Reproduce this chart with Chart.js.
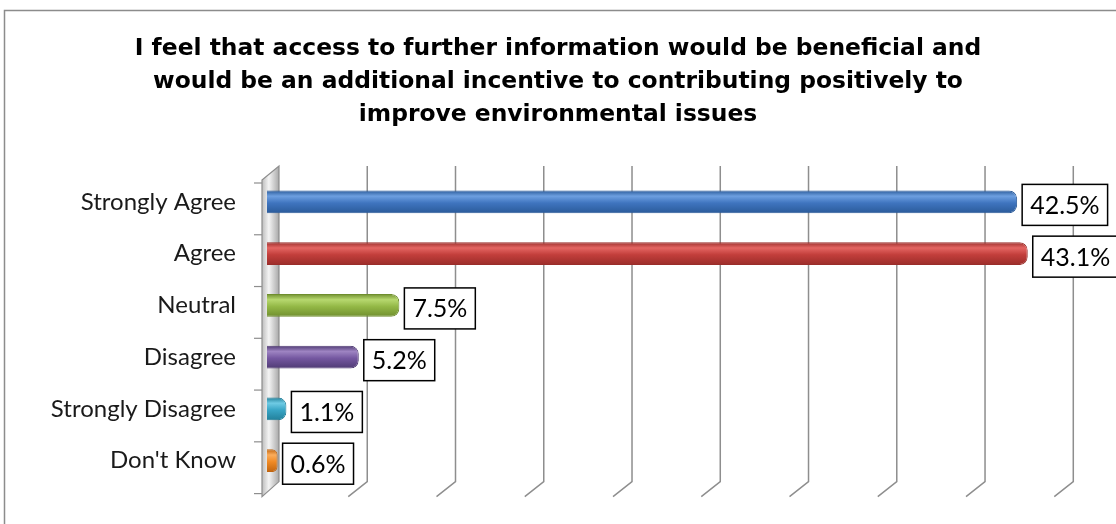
<!DOCTYPE html>
<html>
  <head>
    <title>Further information as incentive</title>
    <script src="https://cdn.jsdelivr.net/npm/chart.js@4/dist/chart.umd.min.js"></script>
    <style>
      html, body { margin: 0; padding: 0; background: #fff; }
      #container { width: 1116px; height: 524px; }
    </style>
  </head>

  <body>
    <div id="container">
      <canvas id="canvas" width="1116" height="524"></canvas>
    </div>
    <script>
      // data
      const categories = ['Strongly Agree', 'Agree', 'Neutral', 'Disagree', 'Strongly Disagree', "Don't Know"];
      const values = [42.5, 43.1, 7.5, 5.2, 1.1, 0.6];
      const valueLabels = ['42.5%', '43.1%', '7.5%', '5.2%', '1.1%', '0.6%'];
      // [dark edge, light highlight, body] per bar
      const barColors = [
        ['#2a5a99', '#6d9fe0', '#3f74bf'],
        ['#9a2d2a', '#e46562', '#c23e3b'],
        ['#6f8e2e', '#b7d86f', '#93b846'],
        ['#4f3a73', '#9e84c2', '#7457a0'],
        ['#217f99', '#6fcbe4', '#38a5c5'],
        ['#c0640f', '#fbad5c', '#f08a25'],
      ];
      const titleLines = [
        'I feel that access to further information would be beneficial and',
        'would be an additional incentive to contributing positively to',
        'improve environmental issues',
      ];
      const xGridMax = 45;   // last gridline
      const xAxisMax = 48.1; // axis runs on to the page edge, past the last gridline
      const xStep = 5;

      const labelFont = 'Lato, "Open Sans", sans-serif';

      function barGradient(c) {
        const chart = c.chart;
        const ys = chart.scales.y;
        if (!ys || ys.top === undefined) return barColors[c.dataIndex][2];
        const yc = ys.getPixelForValue(c.dataIndex);
        const h = 23;
        const col = barColors[c.dataIndex];
        const g = chart.ctx.createLinearGradient(0, yc - h / 2, 0, yc + h / 2);
        g.addColorStop(0, col[0]);
        g.addColorStop(0.25, col[1]);
        g.addColorStop(0.55, col[2]);
        g.addColorStop(1, col[0]);
        return g;
      }

      // 3D-ish back grid and side wall, like the office chart
      const gridPlugin = {
        id: 'grid3d',
        beforeDatasetsDraw(chart) {
          const { ctx, chartArea } = chart;
          const xs = chart.scales.x;
          const ys = chart.scales.y;
          const top = chartArea.top, bottom = chartArea.bottom;
          ctx.save();
          // gridlines
          ctx.strokeStyle = '#8e8e8e';
          ctx.lineWidth = 1.5;
          for (let v = xStep; v <= xGridMax; v += xStep) {
            const x = xs.getPixelForValue(v);
            ctx.beginPath();
            ctx.moveTo(x + 12, top - 10);
            ctx.lineTo(x + 12, bottom - 5);
            ctx.lineTo(x - 7, bottom + 10);
            ctx.stroke();
          }
          // side wall
          const x0 = xs.getPixelForValue(0);
          const g = ctx.createLinearGradient(x0 - 5, 0, x0 + 12, 0);
          g.addColorStop(0, '#bdbdbd');
          g.addColorStop(0.4, '#f4f4f4');
          g.addColorStop(1, '#a9a9a9');
          ctx.fillStyle = g;
          ctx.beginPath();
          ctx.moveTo(x0 - 5, top + 4);
          ctx.lineTo(x0 + 12, top - 10);
          ctx.lineTo(x0 + 12, bottom - 5);
          ctx.lineTo(x0 - 5, bottom + 10);
          ctx.closePath();
          ctx.fill();
          ctx.strokeStyle = '#8e8e8e';
          ctx.lineWidth = 1.2;
          ctx.stroke();
          // category ticks on the wall's front edge
          const step = ys.getPixelForValue(1) - ys.getPixelForValue(0);
          for (let i = 0; i <= categories.length; i++) {
            const y = ys.getPixelForValue(i) - step / 2 + 7;
            ctx.beginPath();
            ctx.moveTo(x0 - 13, y);
            ctx.lineTo(x0 - 5, y);
            ctx.stroke();
          }
          ctx.restore();
        },
        afterDatasetsDraw(chart) {
          const { ctx } = chart;
          const meta = chart.getDatasetMeta(0);
          ctx.save();
          ctx.font = '25px ' + labelFont;
          ctx.textBaseline = 'middle';
          ctx.textAlign = 'center';
          meta.data.forEach((el, i) => {
            const txt = valueLabels[i];
            const w = ctx.measureText(txt).width + 16;
            const h = 41;
            const left = el.x + 5;
            const cy = el.y + 3;
            ctx.fillStyle = '#fff';
            ctx.fillRect(left, cy - h / 2, w, h);
            ctx.strokeStyle = '#000';
            ctx.lineWidth = 1.5;
            ctx.strokeRect(left, cy - h / 2, w, h);
            ctx.fillStyle = '#000';
            ctx.fillText(txt, left + w / 2, cy + 1);
          });
          ctx.restore();
        },
        afterDraw(chart) {
          // outer chart border (cut off at the right and bottom)
          const ctx = chart.ctx;
          ctx.save();
          ctx.strokeStyle = '#8c8c8c';
          ctx.lineWidth = 1.5;
          ctx.strokeRect(4.5, 10.5, 1200, 600);
          ctx.restore();
        },
      };

      window.onload = () => {
        const ctx = document.getElementById('canvas').getContext('2d');
        window.myBar = new Chart(ctx, {
          type: 'bar',
          data: {
            labels: categories,
            datasets: [
              {
                label: 'Responses',
                data: values,
                backgroundColor: barGradient,
                borderColor: barColors.map((c) => c[0]),
                borderWidth: 1,
                borderRadius: 8,
                borderSkipped: 'start',
                barPercentage: 0.88,
                categoryPercentage: 0.5,
              },
            ],
          },
          plugins: [gridPlugin],
          options: {
            indexAxis: 'y',
            responsive: false,
            animation: false,
            layout: {
              padding: { top: 0, left: 0, right: 0, bottom: 28 },
            },
            plugins: {
              legend: { display: false },
              tooltip: { enabled: false },
              title: {
                display: true,
                text: titleLines,
                color: '#000',
                font: { family: '"DejaVu Sans"', size: 23.4, weight: 'bold', lineHeight: 33 / 23.4 },
                padding: { top: 32, bottom: 45 },
              },
            },
            scales: {
              x: {
                min: 0,
                max: xAxisMax,
                grid: { display: false },
                border: { display: false },
                ticks: { display: false, stepSize: xStep },
                afterFit: (scale) => { scale.height = 0; },
              },
              y: {
                grid: { display: false },
                border: { display: false },
                ticks: {
                  color: '#1a1a1a',
                  padding: 23,
                  font: { family: labelFont, size: 24 },
                },
                afterFit: (scale) => { scale.width = 267; },
              },
            },
          },
        });
      };
    </script>
  </body>
</html>
